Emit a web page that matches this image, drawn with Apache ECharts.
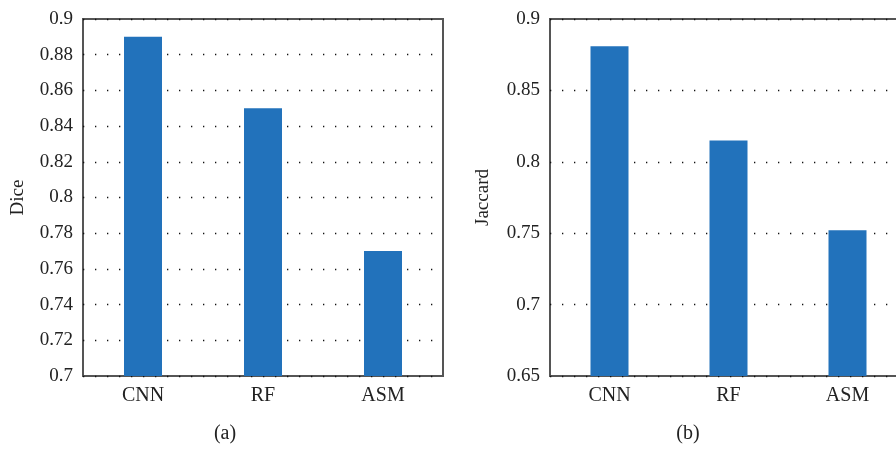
<!DOCTYPE html>
<html><head><meta charset="utf-8">
<script src="https://cdn.jsdelivr.net/npm/echarts@6/dist/echarts.min.js"></script>
<style>html,body{margin:0;padding:0;background:#fff;overflow:hidden;width:896px;height:449px}#c{width:930px;height:449px}</style>
</head><body><div id="c"></div>
<script>
const categories = ['CNN', 'RF', 'ASM'];
const diceValues = [0.89, 0.85, 0.77];
const jaccardValues = [0.881, 0.815, 0.752];
const diceTicks = {min: 0.7, max: 0.9, interval: 0.02};
const jaccardTicks = {min: 0.65, max: 0.9, interval: 0.05};
const panelLabels = ['(a)', '(b)'];

const FONT = '"Liberation Serif", "DejaVu Serif", serif';
const TXT = '#222';
const chart = echarts.init(document.getElementById('c'), null, {renderer: 'canvas'});

function yAx(idx, name, t, decimals, gap) {
  return {
    gridIndex: idx, type: 'value', min: t.min, max: t.max, interval: t.interval,
    name: name, nameLocation: 'middle', nameGap: gap,
    nameTextStyle: {fontFamily: FONT, fontSize: 19, color: TXT},
    axisLine: {show: false}, axisTick: {show: false},
    axisLabel: {fontFamily: FONT, fontSize: 19, color: TXT, margin: 10,
      formatter: v => String(parseFloat(v.toFixed(decimals)))},
    splitLine: {show: true, lineStyle: {color: '#111', width: 1.3, type: [1.3, 10.7]}}
  };
}
function xAx(idx) {
  return {
    gridIndex: idx, type: 'category', data: categories,
    axisLine: {show: false}, axisTick: {show: false},
    axisLabel: {fontFamily: FONT, fontSize: 20, color: TXT, margin: 10}
  };
}
chart.setOption({
  animation: false,
  grid: [
    {left: 83, width: 360, top: 19, height: 357, show: true, borderColor: '#555', borderWidth: 2, backgroundColor: 'transparent'},
    {left: 550, width: 357, top: 19, height: 357, show: true, borderColor: '#555', borderWidth: 2, backgroundColor: 'transparent'}
  ],
  xAxis: [xAx(0), xAx(1)],
  yAxis: [yAx(0, 'Dice', diceTicks, 2, 55), yAx(1, 'Jaccard', jaccardTicks, 2, 57)],
  series: [
    {type: 'bar', xAxisIndex: 0, yAxisIndex: 0, data: diceValues, barWidth: 38, itemStyle: {color: '#2272bb'}},
    {type: 'bar', xAxisIndex: 1, yAxisIndex: 1, data: jaccardValues, barWidth: 38, itemStyle: {color: '#2272bb'}}
  ],
  graphic: [
    {type: 'text', x: 225, y: 434, style: {text: panelLabels[0], font: '20px ' + FONT, fill: TXT, align: 'center', verticalAlign: 'middle'}},
    {type: 'text', x: 688, y: 434, style: {text: panelLabels[1], font: '20px ' + FONT, fill: TXT, align: 'center', verticalAlign: 'middle'}}
  ]
});
</script></body></html>
